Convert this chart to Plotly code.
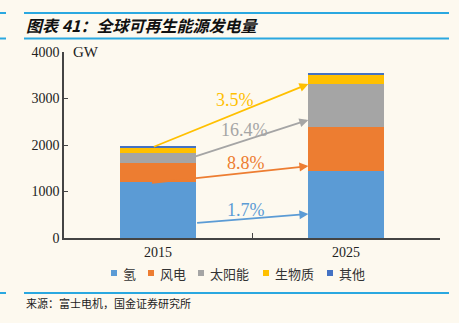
import plotly.graph_objects as go

# Installed renewable capacity (GW)
years = ["2015", "2025"]
series_names = ["氢", "风电", "太阳能", "生物质", "其他"]
hydro = [1211, 1441]
wind = [408, 940]
solar = [203, 931]
biomass = [128, 193]
other = [35, 50]
series_values = [hydro, wind, solar, biomass, other]
series_colors = ["#5B9BD5", "#ED7D31", "#A5A5A5", "#FFC000", "#4472C4"]

# Compound annual growth labels, with arrow start/end points (category index, GW)
growth_labels = ["1.7%", "8.8%", "16.4%", "3.5%"]
growth_colors = ["#5B9BD5", "#ED7D31", "#A5A5A5", "#FFC000"]
arrow_from = [(0.20, 323), (-0.04, 1183), (0.13, 1663), (-0.03, 1950)]
arrow_to = [(0.80, 516), (0.80, 1548), (0.80, 2538), (0.80, 3312)]
label_at = [(0.47, 602), (0.47, 1613), (0.46, 2323), (0.41, 2968)]

y_ticks = [0, 1000, 2000, 3000, 4000]

BG = "#FDF9EF"
RULE = "#2AA8E0"
SERIF = "Liberation Serif, Times New Roman, serif"
CJK = "Noto Sans CJK SC, sans-serif"

W, H = 459, 323
M = dict(l=64, r=19, t=52, b=85)
PW = W - M["l"] - M["r"]
PH = H - M["t"] - M["b"]


def px_x(px):
    """Page pixel column -> paper x."""
    return (px - M["l"]) / PW


def px_y(py):
    """Page pixel row -> paper y."""
    return (H - M["b"] - py) / PH


fig = go.Figure()
for name, vals, col in zip(series_names, series_values, series_colors):
    fig.add_trace(go.Bar(
        x=years, y=vals, name=name, showlegend=False,
        marker=dict(color=col, line=dict(width=0)),
        width=0.4,
    ))

# Growth arrows and percentage labels
for lab, col, (x0, y0), (x1, y1), (lx, ly) in zip(
        growth_labels, growth_colors, arrow_from, arrow_to, label_at):
    fig.add_annotation(
        x=x1, y=y1, ax=x0, ay=y0, xref="x", yref="y", axref="x", ayref="y",
        text="", showarrow=True, arrowhead=2, arrowsize=1.0, arrowwidth=1.8,
        arrowcolor=col, standoff=0, startstandoff=0,
    )
    fig.add_annotation(
        x=lx, y=ly, xref="x", yref="y", text=lab, showarrow=False,
        font=dict(family=SERIF, size=18, color=col),
    )

# Unit label beside the top of the value axis
fig.add_annotation(
    x=0.0, y=4000, xref="paper", yref="y", text="GW", showarrow=False,
    xanchor="left", yanchor="middle", xshift=7,
    font=dict(family=SERIF, size=15, color="#222"),
)

# Compact legend row: small square swatch followed by the series name
legend_x = [111, 148, 198, 263, 327]
legend_y = 273
for name, col, lx in zip(series_names, series_colors, legend_x):
    fig.add_shape(type="rect", xref="paper", yref="paper",
                  x0=px_x(lx), x1=px_x(lx + 6),
                  y0=px_y(legend_y + 3), y1=px_y(legend_y - 3),
                  fillcolor=col, line=dict(width=0))
    fig.add_annotation(
        x=px_x(lx + 10), y=px_y(legend_y), xref="paper", yref="paper",
        text=name, showarrow=False, xanchor="left", yanchor="middle",
        font=dict(family=CJK, size=13, color="#333"),
    )

# Header and footer
fig.add_annotation(
    x=px_x(24), y=px_y(25), xref="paper", yref="paper",
    text="<b><i>图表 41：全球可再生能源发电量</i></b>", showarrow=False,
    xanchor="left", yanchor="middle",
    font=dict(family=CJK, size=16, color="#111"),
)
fig.add_annotation(
    x=px_x(24), y=px_y(303), xref="paper", yref="paper",
    text="来源：富士电机，国金证券研究所", showarrow=False,
    xanchor="left", yanchor="middle",
    font=dict(family=CJK, size=11, color="#222"),
)
for ry in [13, 38.5, 293]:
    for xa, xb in [(0, 6), (24, 449)]:
        fig.add_shape(type="line", xref="paper", yref="paper",
                      x0=px_x(xa), x1=px_x(xb), y0=px_y(ry), y1=px_y(ry),
                      line=dict(color=RULE, width=2))

fig.update_layout(
    barmode="stack",
    width=W, height=H,
    margin=M,
    paper_bgcolor=BG, plot_bgcolor=BG,
    showlegend=False,
    xaxis=dict(
        type="category", range=[-0.5, 1.5], tickson="boundaries",
        ticks="inside", ticklen=5, tickcolor="#444",
        showline=True, linecolor="#444", linewidth=1.5,
        showgrid=False, zeroline=False,
        tickfont=dict(family=SERIF, size=14, color="#222"),
    ),
    yaxis=dict(
        range=[0, 4000], tickvals=y_ticks,
        ticks="inside", ticklen=4, tickcolor="#444",
        showline=True, linecolor="#444", linewidth=1.5,
        showgrid=False, zeroline=False,
        tickfont=dict(family=SERIF, size=14, color="#222"),
    ),
)

fig.write_html("out.html")
